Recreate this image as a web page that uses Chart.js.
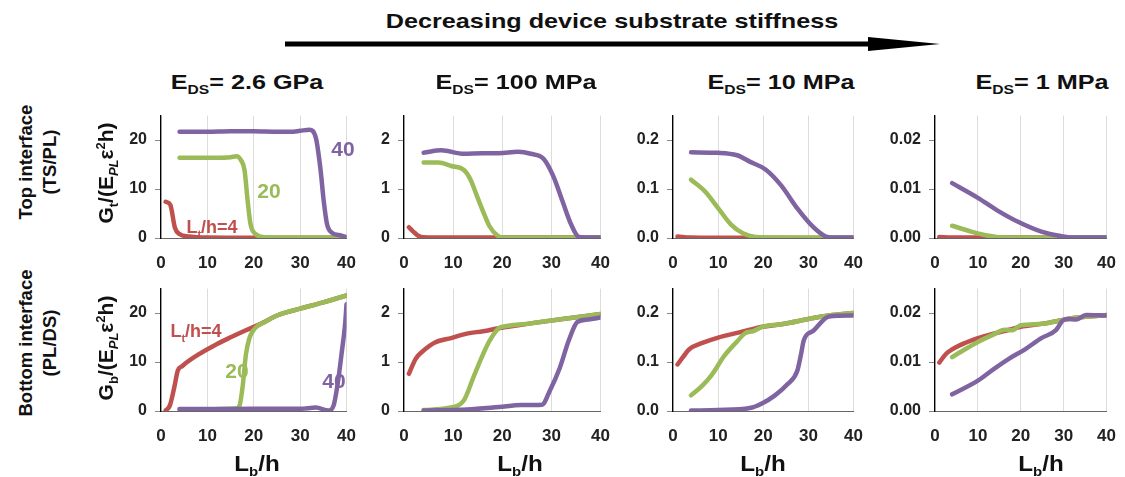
<!DOCTYPE html>
<html><head><meta charset="utf-8">
<script src="https://cdn.jsdelivr.net/npm/chart.js@4/dist/chart.umd.min.js"></script>
<style>
body{margin:0;background:#fff;}
#fig{position:relative;width:1125px;height:477px;overflow:hidden;font-family:'Liberation Sans',Arial,sans-serif;font-weight:bold;color:#222;}
canvas{position:absolute;}
.t{position:absolute;white-space:nowrap;line-height:1;transform-origin:center center;}
sub,sup{font-size:0.62em;line-height:0;}
</style></head>
<body><div id="fig">
<svg width="1125" height="477" style="position:absolute;left:0;top:0">
  <line x1="285" y1="44" x2="875" y2="44" stroke="#000" stroke-width="5"/>
  <polygon points="868,37 940,44 868,51" fill="#000"/>
</svg>
</div>
<script>
// ---------- DATA ----------
const xTicks = [0, 10, 20, 30, 40];
const columnTitles = ["2.6 GPa", "100 MPa", "10 MPa", "1 MPa"];
const rowLabels = [["Top interface", "(TS/PL)"], ["Bottom interface", "(PL/DS)"]];
const yMax = [25, 2.5, 0.25, 0.025];
const yStep = [10, 1, 0.1, 0.01];
const yDecimals = [0, 0, 1, 2];

// Top interface, E_DS = 2.6 GPa
const t1_red_x = [1, 2, 3, 4, 6, 8, 10, 20, 30, 40];
const t1_red_y = [7.4, 6.8, 2.1, 0.8, 0.3, 0.15, 0.1, 0.05, 0.05, 0.05];
const t1_green_x = [4, 8, 12, 15, 16.3, 17.3, 18, 18.7, 19.3, 20.4, 22.4, 26, 30, 40];
const t1_green_y = [16.4, 16.4, 16.4, 16.5, 16.7, 15.8, 13.9, 7.4, 2.8, 0.8, 0.15, 0.1, 0.1, 0.1];
const t1_purple_x = [4, 10, 15, 20, 25, 28, 30, 32, 33.4, 34.4, 35.1, 35.8, 36.8, 38.9, 40];
const t1_purple_y = [21.7, 21.7, 21.8, 21.8, 21.7, 21.7, 21.9, 22.1, 20.4, 13.9, 7.4, 2.8, 1.1, 0.5, 0.15];
// Bottom interface, E_DS = 2.6 GPa
const b1_red_x = [1, 1.9, 2.9, 3.6, 4.6, 8, 11.5, 14.9, 18.3, 21.7, 25, 30, 35, 40];
const b1_red_y = [0.1, 1.1, 5.0, 8.2, 9.2, 11.5, 13.4, 15.0, 16.5, 17.9, 19.5, 20.9, 22.2, 23.6];
const b1_green_x = [4, 10, 16, 16.9, 17.6, 18.3, 19.0, 20.0, 21, 22.4, 25, 30, 35, 40];
const b1_green_y = [0.3, 0.35, 0.5, 1.0, 5.0, 11.5, 14.7, 16.6, 17.5, 18.2, 19.5, 20.9, 22.2, 23.6];
const b1_purple_x = [4, 10, 20, 30, 33.4, 36.1, 37.2, 38.2, 38.9, 39.7, 40];
const b1_purple_y = [0.4, 0.4, 0.45, 0.45, 0.7, 0.1, 1.1, 6.3, 11.5, 17.9, 21.8];

// Top interface, E_DS = 100 MPa
const t2_red_x = [1, 2, 3, 4, 6, 10, 20, 30, 40];
const t2_red_y = [0.22, 0.12, 0.04, 0.015, 0.01, 0.01, 0.01, 0.01, 0.01];
const t2_green_x = [4, 7, 9.6, 12.2, 13.5, 14.8, 16.1, 17.4, 19, 20, 25, 30, 35, 40];
const t2_green_y = [1.54, 1.54, 1.47, 1.39, 1.2, 0.87, 0.54, 0.24, 0.05, 0.01, 0.01, 0.01, 0.01, 0.01];
const t2_purple_x = [4, 7.6, 12.2, 16, 19.3, 23.2, 25.8, 28.4, 30.4, 32.3, 34, 35.6, 37, 40];
const t2_purple_y = [1.74, 1.79, 1.72, 1.73, 1.73, 1.76, 1.72, 1.62, 1.26, 0.74, 0.28, 0.02, 0.01, 0.01];
// Bottom interface, E_DS = 100 MPa
const b2_red_x = [1, 2.4, 3.7, 6.3, 9.6, 12.8, 16.1, 19.3, 25.8, 32.3, 40];
const b2_red_y = [0.76, 1.07, 1.21, 1.40, 1.49, 1.58, 1.63, 1.69, 1.79, 1.88, 1.98];
const b2_green_x = [4, 8.9, 12.2, 14.1, 15.7, 17.4, 19.3, 20.6, 25.8, 32.3, 40];
const b2_green_y = [0.02, 0.06, 0.22, 0.68, 1.07, 1.43, 1.69, 1.73, 1.79, 1.88, 1.98];
const b2_purple_x = [4, 12.8, 19.3, 23.9, 28.1, 29.7, 31.7, 33.6, 35.3, 37.5, 40];
const b2_purple_y = [0.01, 0.03, 0.08, 0.12, 0.13, 0.42, 0.88, 1.46, 1.82, 1.87, 1.91];

// Top interface, E_DS = 10 MPa
const t3_red_x = [1, 4, 10, 20, 30, 40];
const t3_red_y = [0.003, 0.001, 0.0005, 0.0003, 0.0002, 0.0002];
const t3_green_x = [4, 7.2, 10, 12.8, 15.6, 18.4, 20, 30, 40];
const t3_green_y = [0.119, 0.094, 0.061, 0.028, 0.009, 0.002, 0.001, 0.001, 0.001];
const t3_purple_x = [4, 10, 14.2, 17, 20.5, 24, 27.5, 31.1, 33.9, 36, 40];
const t3_purple_y = [0.175, 0.174, 0.169, 0.156, 0.140, 0.107, 0.061, 0.022, 0.003, 0.001, 0.001];
// Bottom interface, E_DS = 10 MPa
const b3_red_x = [1, 2.2, 3.6, 6.5, 10, 13.5, 17, 19.8, 24, 31.1, 34.6, 40];
const b3_red_y = [0.095, 0.11, 0.126, 0.139, 0.150, 0.158, 0.166, 0.172, 0.177, 0.19, 0.195, 0.2];
const b3_green_x = [4, 6.5, 8.6, 11.4, 14.2, 16, 17.8, 19.8, 24, 31.1, 34.6, 40];
const b3_green_y = [0.032, 0.052, 0.074, 0.113, 0.142, 0.159, 0.163, 0.172, 0.177, 0.19, 0.195, 0.2];
const b3_purple_x = [4, 10, 17, 19.8, 22.6, 25.4, 27.5, 28.3, 29, 31.1, 34.6, 40];
const b3_purple_y = [0.001, 0.002, 0.006, 0.016, 0.032, 0.055, 0.081, 0.113, 0.145, 0.164, 0.193, 0.195];

// Top interface, E_DS = 1 MPa
const t4_red_x = [1, 4, 10, 20, 30, 40];
const t4_red_y = [0.0002, 0.0001, 0.0001, 0.0001, 0.0001, 0.0001];
const t4_green_x = [4, 8.5, 12.2, 15.9, 20, 30, 40];
const t4_green_y = [0.0025, 0.0013, 0.0005, 0.0001, 0.0001, 0.0001, 0.0001];
const t4_purple_x = [4, 10, 14.4, 19.6, 24.8, 29.3, 32.2, 36, 40];
const t4_purple_y = [0.0112, 0.0082, 0.0057, 0.0032, 0.0013, 0.0004, 0.0001, 0.0001, 0.0001];
// Bottom interface, E_DS = 1 MPa
const b4_red_x = [1, 2.6, 4, 7, 10, 13.6, 17.3, 20, 24.9, 28.6, 32.3, 40];
const b4_red_y = [0.0099, 0.0117, 0.0126, 0.0139, 0.0149, 0.0158, 0.0166, 0.0172, 0.0178, 0.0184, 0.019, 0.0196];
const b4_green_x = [4, 7, 10, 13.6, 16.3, 18, 20, 24.9, 28.6, 32.3, 40];
const b4_green_y = [0.011, 0.0126, 0.0141, 0.0156, 0.0166, 0.0165, 0.0175, 0.0178, 0.0184, 0.019, 0.0196];
const b4_purple_x = [4, 10, 13.6, 17.3, 21, 24.8, 28.2, 29.7, 30.8, 33, 35.2, 40];
const b4_purple_y = [0.0034, 0.0062, 0.0085, 0.0107, 0.0126, 0.0149, 0.0165, 0.0184, 0.0188, 0.0187, 0.0196, 0.0195];

// ---------- STYLE / LAYOUT ----------
const RED = '#C0504D', GREEN = '#9BBB59', PURPLE = '#8064A2';
const FONT = "'Liberation Sans', Arial, Helvetica, sans-serif";
const colX0 = [161, 404, 673, 935];
const colX40 = [355, 609, 862, 1115];
const rowTop = [110, 283];
const rowBottom = [238, 411];
const YW = 50, PT = 12, PR = 16, XH = 40;

const grid = [
  [[t1_purple_x, t1_purple_y], [t1_green_x, t1_green_y], [t1_red_x, t1_red_y]],
  [[t2_purple_x, t2_purple_y], [t2_green_x, t2_green_y], [t2_red_x, t2_red_y]],
  [[t3_purple_x, t3_purple_y], [t3_green_x, t3_green_y], [t3_red_x, t3_red_y]],
  [[t4_purple_x, t4_purple_y], [t4_green_x, t4_green_y], [t4_red_x, t4_red_y]],
];
const gridB = [
  [[b1_purple_x, b1_purple_y], [b1_green_x, b1_green_y], [b1_red_x, b1_red_y]],
  [[b2_purple_x, b2_purple_y], [b2_green_x, b2_green_y], [b2_red_x, b2_red_y]],
  [[b3_purple_x, b3_purple_y], [b3_green_x, b3_green_y], [b3_red_x, b3_red_y]],
  [[b4_purple_x, b4_purple_y], [b4_green_x, b4_green_y], [b4_red_x, b4_red_y]],
];
const seriesColors = [PURPLE, GREEN, RED];

const fig = document.getElementById('fig');
function pts(xs, ys) { return xs.map((x, i) => ({x: x, y: ys[i]})); }

function makePanel(row, col, series) {
  const cv = document.createElement('canvas');
  const w = YW + (colX40[col] - colX0[col]) + PR;
  const h = PT + (rowBottom[row] - rowTop[row]) + XH;
  cv.width = w; cv.height = h;
  cv.style.left = (colX0[col] - YW) + 'px';
  cv.style.top = (rowTop[row] - PT) + 'px';
  fig.appendChild(cv);
  new Chart(cv, {
    type: 'line',
    data: {
      datasets: series.map((s, i) => ({
        data: pts(s[0], s[1]),
        borderColor: seriesColors[i],
        borderWidth: 4.5,
        pointRadius: 0,
        fill: false,
        cubicInterpolationMode: 'monotone',
        borderCapStyle: 'round',
        borderJoinStyle: 'round'
      }))
    },
    options: {
      responsive: false,
      animation: false,
      devicePixelRatio: 1,
      layout: {padding: {top: PT, right: PR, left: 0, bottom: 0}},
      plugins: {legend: {display: false}, tooltip: {enabled: false}, title: {display: false}},
      scales: {
        x: {
          type: 'linear', min: xTicks[0], max: xTicks[xTicks.length - 1],
          afterFit: s => { s.height = XH; },
          afterBuildTicks: s => { s.ticks = xTicks.map(v => ({value: v})); },
          ticks: {font: {family: FONT, size: 17, weight: 'bold'}, color: '#222', padding: 15, maxRotation: 0, autoSkip: false},
          grid: {color: '#dcdcdc', lineWidth: 1, drawTicks: false},
          border: {color: '#666', width: 1}
        },
        y: {
          type: 'linear', min: 0, max: yMax[col],
          afterFit: s => { s.width = YW; },
          ticks: {stepSize: yStep[col], includeBounds: false,
                  font: {family: FONT, size: 16, weight: 'bold'}, color: '#222', padding: 8,
                  callback: v => (v > yMax[col] * 0.99 ? '' : Number(v).toFixed(yDecimals[col]))},
          grid: {drawOnChartArea: false, tickLength: 6, tickColor: '#888', lineWidth: 1},
          border: {color: '#000', width: 1.3}
        }
      }
    }
  });
}
for (let c = 0; c < 4; c++) { makePanel(0, c, grid[c]); makePanel(1, c, gridB[c]); }

// ---------- TEXT ----------
function text(html, x, y, size, extra, color) {
  const d = document.createElement('div');
  d.className = 't';
  d.innerHTML = html;
  d.style.left = x + 'px'; d.style.top = y + 'px';
  d.style.fontSize = size + 'px';
  if (color) d.style.color = color;
  d.style.transform = 'translate(-50%,-50%) ' + (extra || '');
  fig.appendChild(d);
  return d;
}
text('Decreasing device substrate stiffness', 612, 20, 21, 'scaleX(1.2)', '#111');
const titleX = [247, 516, 781, 1042];
columnTitles.forEach((t, i) => text('E<sub>DS</sub>= ' + t, titleX[i], 81, 21, 'scaleX(1.2)', '#111'));
text(rowLabels[0][0], 26, 162, 18.5, 'rotate(-90deg)', '#111');
text(rowLabels[0][1], 50, 162, 18.5, 'rotate(-90deg)', '#111');
text(rowLabels[1][0], 26, 343, 18.5, 'rotate(-90deg)', '#111');
text(rowLabels[1][1], 50, 343, 18.5, 'rotate(-90deg)', '#111');
text('G<sub>t</sub>/(E<sub><i>PL</i></sub>ε<sup>2</sup>h)', 105, 173, 21, 'rotate(-90deg)', '#111');
text('G<sub>b</sub>/(E<sub><i>PL</i></sub>ε<sup>2</sup>h)', 105, 348, 21, 'rotate(-90deg)', '#111');
const xTitleX = [257, 520, 763, 1041];
xTitleX.forEach(x => text('L<sub>b</sub>/h', x, 464, 22, 'scaleX(1.1)', '#111'));
// in-plot labels
text('40', 343, 148, 21, '', PURPLE);
text('20', 269, 190, 21, '', GREEN);
text('L<sub>t</sub>/h=4', 212, 227, 18, '', RED);
text('L<sub>t</sub>/h=4', 196, 331, 18, '', RED);
text('20', 237, 370, 21, '', GREEN);
text('40', 334, 380, 21, '', PURPLE);
</script>
</body></html>
